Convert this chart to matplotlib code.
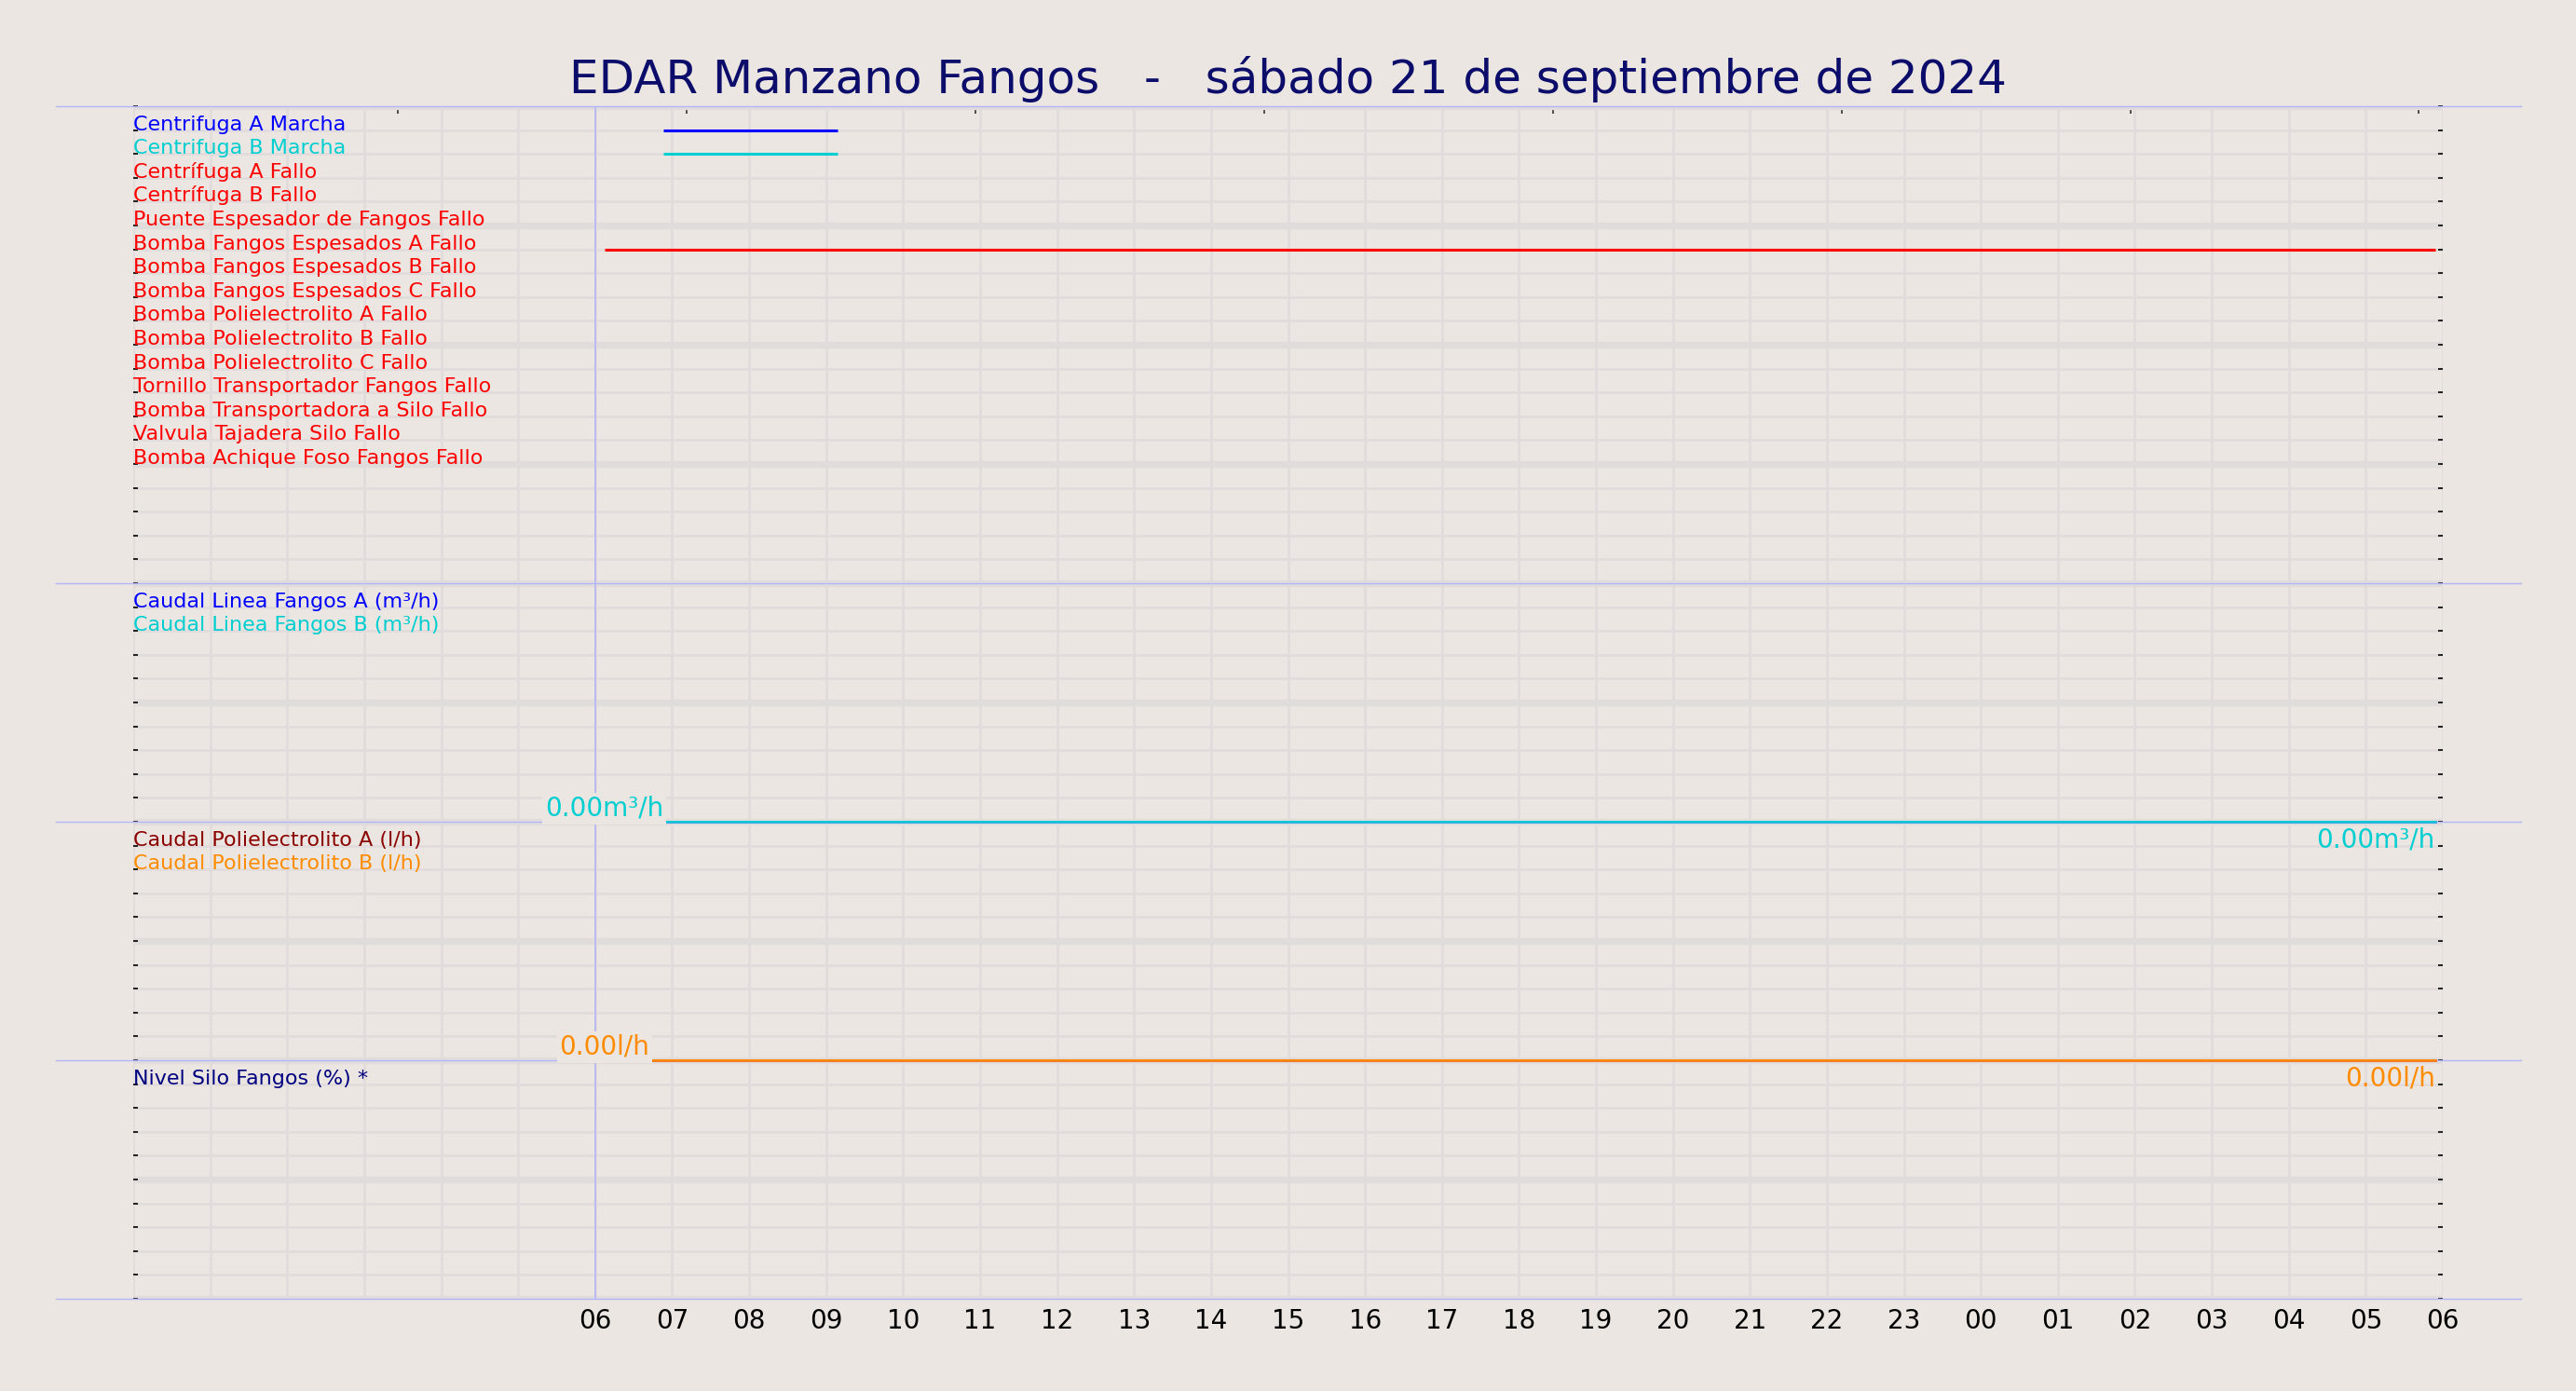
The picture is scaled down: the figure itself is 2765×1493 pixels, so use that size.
import matplotlib
matplotlib.use("Agg")
import matplotlib.pyplot as plt
from matplotlib.ticker import MultipleLocator, FixedLocator

titulo = "EDAR Manzano Fangos   -   sábado 21 de septiembre de 2024"

# señales digitales, de arriba a abajo
senales = [
    "Centrifuga A Marcha",
    "Centrifuga B Marcha",
    "Centrífuga A Fallo",
    "Centrífuga B Fallo",
    "Puente Espesador de Fangos Fallo",
    "Bomba Fangos Espesados A Fallo",
    "Bomba Fangos Espesados B Fallo",
    "Bomba Fangos Espesados C Fallo",
    "Bomba Polielectrolito A Fallo",
    "Bomba Polielectrolito B Fallo",
    "Bomba Polielectrolito C Fallo",
    "Tornillo Transportador Fangos Fallo",
    "Bomba Transportadora a Silo Fallo",
    "Valvula Tajadera Silo Fallo",
    "Bomba Achique Foso Fangos Fallo",
]
colores_senales = ["blue", "darkturquoise"] + ["red"] * 13

# tramos activos (horas desde las 00:00 del sabado)
tramos = {
    "Centrifuga A Marcha": [(6.88, 9.15)],
    "Centrifuga B Marcha": [(6.88, 9.15)],
    "Bomba Fangos Espesados A Fallo": [(6.12, 29.9)],
}

# analogicas
caudal_horas = [6.12, 29.9]
caudal_a = [0.0, 0.0]
caudal_b = [0.0, 0.0]
escala_caudal = 100.0

poli_horas = [6.12, 29.9]
poli_a = [0.0, 0.0]
poli_b = [0.0, 0.0]
escala_poli = 1000.0

# eje x
horas = list(range(0, 31))
etiquetas_horas = ["" if h < 6 else "%02d" % (h % 24) for h in horas]
marcas_sup = [3.44, 7.19, 10.94, 14.69, 18.44, 22.19, 25.94, 29.69]

fondo = "#ebe6e1"
rejilla = "#e1dcdc"
lila = "#b4b4f8"
fs_txt = 16

fig = plt.figure(figsize=(27.65, 14.93), dpi=100, facecolor=fondo)
ax = fig.add_axes([143 / 2765, 99 / 1493, 2479 / 2765, 1280 / 1493])
ax.set_facecolor(fondo)
ax.set_xlim(0, 30)
ax.set_ylim(0, 50)
for s in ax.spines.values():
    s.set_visible(False)

ax.xaxis.set_major_locator(FixedLocator(horas))
ax.set_xticklabels(etiquetas_horas)
ax.xaxis.set_minor_locator(FixedLocator(marcas_sup))
ax.tick_params(axis="x", which="major", bottom=True, top=False, length=0, pad=7, labelsize=20)
ax.tick_params(axis="x", which="minor", bottom=False, top=True, direction="in",
               length=5.5, width=1.1, color="#222222")
ax.yaxis.set_major_locator(MultipleLocator(5))
ax.yaxis.set_minor_locator(MultipleLocator(1))
ax.tick_params(axis="y", which="both", left=True, right=True, direction="in",
               length=3.5, width=1.2, labelleft=False, labelright=False)

ax.set_axisbelow(True)
ax.xaxis.grid(True, which="major", color=rejilla, lw=2)
ax.yaxis.grid(True, which="major", color=rejilla, lw=5.3)
ax.yaxis.grid(True, which="minor", color=rejilla, lw=2)

# separadores de paneles
for y in [50, 30, 20, 10, 0]:
    ax.axhline(y, -0.0335, 1.034, color=lila, lw=1.0, clip_on=False, zorder=1.5)
ax.axvline(6, color=lila, lw=1.2, zorder=1.5)

# digitales
for i, (nombre, col) in enumerate(zip(senales, colores_senales)):
    y = 49 - i
    ax.text(0, y, nombre, color=col, fontsize=fs_txt, ha="left", va="baseline", zorder=5)
    for a, b in tramos.get(nombre, []):
        ax.plot([a, b], [y, y], color=col, lw=2.2, solid_capstyle="butt", zorder=3)

# panel caudal
ax.text(0, 29, "Caudal Linea Fangos A (m³/h)", color="blue", fontsize=fs_txt, va="baseline")
ax.text(0, 28, "Caudal Linea Fangos B (m³/h)", color="darkturquoise", fontsize=fs_txt, va="baseline")
ya = [20 + 10 * v / escala_caudal for v in caudal_a]
yb = [20 + 10 * v / escala_caudal for v in caudal_b]
ax.plot(caudal_horas, ya, color="#2aa8e8", lw=2.0, zorder=3)
ax.plot(caudal_horas, yb, color="darkturquoise", lw=1.1, zorder=3)

# panel polielectrolito
ax.text(0, 19, "Caudal Polielectrolito A (l/h)", color="darkred", fontsize=fs_txt, va="baseline")
ax.text(0, 18, "Caudal Polielectrolito B (l/h)", color="darkorange", fontsize=fs_txt, va="baseline")
pa = [10 + 10 * v / escala_poli for v in poli_a]
pb = [10 + 10 * v / escala_poli for v in poli_b]
ax.plot(poli_horas, pa, color="#f0701a", lw=2.0, zorder=3)
ax.plot(poli_horas, pb, color="darkorange", lw=1.1, zorder=3)

# panel nivel
ax.text(0, 9, "Nivel Silo Fangos (%) *", color="navy", fontsize=fs_txt, va="baseline")

caja = dict(boxstyle="square,pad=0.1", fc=fondo, ec="none")
ax.text(caudal_horas[0], yb[0], "%.2fm³/h" % caudal_b[0], color="darkturquoise", fontsize=20,
        ha="center", va="bottom", bbox=caja, zorder=6)
ax.text(caudal_horas[-1], yb[-1] - 0.2, "%.2fm³/h" % caudal_b[-1], color="darkturquoise",
        fontsize=20, ha="right", va="top", zorder=6)
ax.text(poli_horas[0], pb[0], "%.2fl/h" % poli_b[0], color="darkorange", fontsize=20,
        ha="center", va="bottom", bbox=caja, zorder=6)
ax.text(poli_horas[-1], pb[-1] - 0.2, "%.2fl/h" % poli_b[-1], color="darkorange",
        fontsize=20, ha="right", va="top", zorder=6)

fig.text(0.5, 1 - 100 / 1493, titulo, color="#0c0c6a", fontsize=36, ha="center", va="baseline")

fig.savefig("out.png", dpi=100, facecolor=fondo)
